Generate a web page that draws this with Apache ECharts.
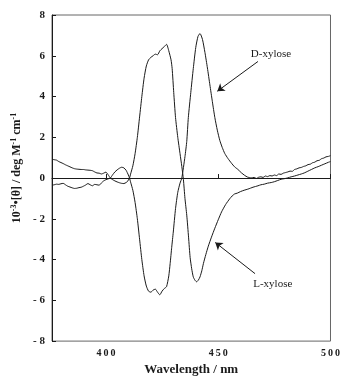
<!DOCTYPE html>
<html>
<head>
<meta charset="utf-8">
<script src="https://cdn.jsdelivr.net/npm/echarts@6/dist/echarts.min.js"></script>
<style>
  html, body { margin: 0; padding: 0; background: #fff; }
  #chart { width: 343px; height: 381px; }
</style>
</head>
<body>
<div id="chart"></div>
<script>
// D-xylose CD spectrum (wavelength nm / 10^-3 [theta])
const dWavelength = [376, 377, 378, 379, 380, 381, 382, 383, 384, 385, 386, 387, 388, 389, 390, 391, 392, 393, 394, 395, 396, 397, 398, 399, 400, 401, 402, 403, 404, 405, 406, 407, 408, 409, 410, 410.5, 411, 412, 413, 414, 415, 416, 417, 418, 419, 420, 421, 422, 423, 424, 425, 426, 427, 428, 428.6, 429.3, 430, 431, 432, 433, 433.8, 435.2, 436, 436.7, 437.8, 438.9, 440, 441, 441.9, 443, 444.1, 445.2, 446.3, 447.4, 448.5, 449.6, 450.7, 451.8, 452.9, 454.4, 455.9, 457.3, 458.8, 460.3, 461.8, 463, 464.7, 466, 467, 468, 469, 470, 471, 472, 473, 474, 475, 476, 477, 478, 479, 480, 481, 482, 483, 484, 485, 486, 487, 488, 489, 490, 491, 492, 493, 494, 495, 496, 497, 498, 499, 500];
const dValues = [-0.35, -0.33, -0.30, -0.31, -0.28, -0.26, -0.33, -0.40, -0.44, -0.48, -0.51, -0.50, -0.47, -0.45, -0.40, -0.34, -0.27, -0.33, -0.38, -0.31, -0.33, -0.35, -0.24, -0.14, -0.08, -0.04, 0.0, 0.16, 0.30, 0.40, 0.48, 0.53, 0.50, 0.38, 0.15, 0.0, -0.2, -0.6, -1.2, -2.0, -3.0, -4.0, -4.8, -5.3, -5.55, -5.6, -5.5, -5.45, -5.6, -5.73, -5.55, -5.42, -5.33, -4.8, -4.2, -3.4, -2.65, -1.5, -0.7, -0.25, 0.0, 1.05, 1.8, 2.97, 4.2, 5.37, 6.4, 6.95, 7.09, 6.8, 6.16, 5.4, 4.57, 3.75, 2.97, 2.35, 1.85, 1.5, 1.21, 0.95, 0.73, 0.55, 0.42, 0.26, 0.13, 0.05, 0.01, 0.03, -0.02, 0.04, 0.06, 0.03, 0.1, 0.07, 0.12, 0.1, 0.15, 0.12, 0.2, 0.18, 0.24, 0.27, 0.3, 0.34, 0.33, 0.42, 0.45, 0.5, 0.52, 0.57, 0.6, 0.66, 0.68, 0.75, 0.78, 0.85, 0.87, 0.95, 0.98, 1.04, 1.06, 1.1];

// L-xylose CD spectrum
const lWavelength = [376, 377, 378, 379, 380, 381, 382, 383, 384, 385, 386, 387, 388, 389, 390, 391, 392, 393, 394, 395, 396, 397, 398, 399, 400, 401, 402, 403, 404, 405, 406, 407, 408, 409, 409.5, 410.5, 411, 412, 413, 414, 415, 416, 417, 418, 419, 420, 421, 422, 423, 424, 425, 426, 427, 428, 429, 429.5, 430.2, 431, 432, 433, 433.8, 434.5, 435.2, 436, 436.8, 437.5, 438.2, 438.9, 439.7, 440.4, 441.2, 441.9, 442.7, 443.4, 444.5, 445.6, 447, 448.5, 450, 451.5, 453.3, 455.1, 456.2, 457.3, 458.5, 460, 461.5, 463.3, 465.5, 467.7, 469, 470.5, 472, 473.6, 475, 476.5, 478, 479.5, 481, 482.5, 484, 485.5, 487, 488.3, 490, 491.5, 493, 494.5, 496, 497.5, 499, 500];
const lValues = [0.92, 0.90, 0.88, 0.81, 0.76, 0.71, 0.65, 0.60, 0.55, 0.50, 0.46, 0.44, 0.43, 0.42, 0.42, 0.40, 0.39, 0.38, 0.36, 0.30, 0.25, 0.24, 0.20, 0.24, 0.29, 0.16, 0.0, -0.08, -0.14, -0.19, -0.23, -0.26, -0.27, -0.22, -0.18, 0.0, 0.2, 0.6, 1.2, 2.0, 3.0, 4.0, 4.9, 5.5, 5.8, 5.92, 6.0, 6.08, 6.05, 6.24, 6.35, 6.45, 6.56, 6.24, 5.8, 5.37, 4.2, 2.97, 2.0, 1.2, 0.57, -0.06, -1.0, -1.82, -2.9, -3.9, -4.45, -4.85, -5.02, -5.09, -5.0, -4.85, -4.55, -4.2, -3.75, -3.34, -2.9, -2.46, -2.05, -1.66, -1.3, -1.02, -0.88, -0.78, -0.74, -0.66, -0.6, -0.54, -0.45, -0.38, -0.33, -0.3, -0.25, -0.22, -0.18, -0.12, -0.06, -0.03, 0.01, 0.06, 0.1, 0.15, 0.2, 0.25, 0.34, 0.42, 0.5, 0.56, 0.63, 0.7, 0.77, 0.81];

const xTicks = [400, 450, 500];

// annotation anchors in data space: [label, arrow start, arrow end]
const dNote = { text: "D-xylose", label: [473.5, 6.08], from: [467.7, 5.72], to: [449.6, 4.26] };
const lNote = { text: "L-xylose", label: [474.3, -5.22], from: [466.4, -4.69], to: [448.7, -3.16] };

const serif = "'Liberation Serif', 'DejaVu Serif', serif";
const ink = "#1a1a1a";

const zip = (xs, ys) => xs.map((x, i) => [x, ys[i]]);

const noteMarks = note => ({
  markLine: {
    silent: true,
    symbol: ["none", "arrow"],
    symbolSize: 7,
    lineStyle: { color: ink, width: 1, type: "solid" },
    label: { show: false },
    data: [[{ coord: note.from }, { coord: note.to }]],
  },
  markPoint: {
    silent: true,
    symbol: "circle",
    symbolSize: 0,
    label: {
      show: true,
      position: "inside",
      formatter: note.text,
      color: ink,
      fontFamily: serif,
      fontSize: 11,
    },
    data: [{ coord: note.label }],
  },
});

const chart = echarts.init(document.getElementById("chart"));

chart.setOption({
  animation: false,
  backgroundColor: "#fff",
  grid: {
    left: 52,
    right: 10,
    top: 15,
    bottom: 32,
    show: true,
    borderColor: "#666",
    borderWidth: 1,
  },
  xAxis: {
    type: "value",
    min: 376,
    max: 500,
    name: "Wavelength / nm",
    nameLocation: "middle",
    nameGap: 21,
    nameTextStyle: { fontFamily: serif, fontWeight: "bold", fontSize: 13, color: ink },
    axisLine: { show: true, lineStyle: { color: ink, width: 1 } },
    axisTick: { show: true, inside: true, length: 4, customValues: xTicks, lineStyle: { color: ink } },
    axisLabel: {
      customValues: xTicks,
      margin: 7,
      fontFamily: serif,
      fontWeight: "bold",
      fontSize: 10,
      color: ink,
      formatter: v => String(v).split("").join("\u2009"),
    },
    splitLine: { show: false },
  },
  yAxis: {
    type: "value",
    min: -8,
    max: 8,
    interval: 2,
    axisLine: { show: true, lineStyle: { color: ink, width: 1 } },
    axisTick: { show: true, inside: true, length: 4, lineStyle: { color: ink } },
    axisLabel: {
      margin: 7,
      fontFamily: serif,
      fontWeight: "bold",
      fontSize: 11,
      color: ink,
      formatter: v => (v < 0 ? "- " + Math.abs(v) : String(v)),
    },
    splitLine: { show: false },
  },
  graphic: [
    {
      type: "text",
      x: 17,
      y: 168,
      rotation: Math.PI / 2,
      style: {
        text: "{n|10}{s|-3}{n|\u2022[\u03b8] / deg M}{s|-1}{n| cm}{s|-1}",
        align: "center",
        verticalAlign: "middle",
        fill: ink,
        rich: {
          n: { fontFamily: serif, fontWeight: "bold", fontSize: 12, lineHeight: 14, fill: ink },
          s: { fontFamily: serif, fontWeight: "bold", fontSize: 8, lineHeight: 14, verticalAlign: "top", fill: ink, padding: [0, 0, 6, 0] },
        },
      },
    },
  ],
  series: [
    {
      name: "D-xylose",
      type: "line",
      data: zip(dWavelength, dValues),
      showSymbol: false,
      smooth: 0.2,
      lineStyle: { color: ink, width: 1 },
      ...noteMarks(dNote),
    },
    {
      name: "L-xylose",
      type: "line",
      data: zip(lWavelength, lValues),
      showSymbol: false,
      smooth: 0.2,
      lineStyle: { color: ink, width: 1 },
      ...noteMarks(lNote),
    },
    {
      // zero baseline
      name: "baseline",
      type: "line",
      data: [],
      markLine: {
        silent: true,
        symbol: "none",
        label: { show: false },
        lineStyle: { color: ink, width: 1, type: "solid" },
        data: [{ yAxis: 0 }],
      },
    },
  ],
});
</script>
</body>
</html>
